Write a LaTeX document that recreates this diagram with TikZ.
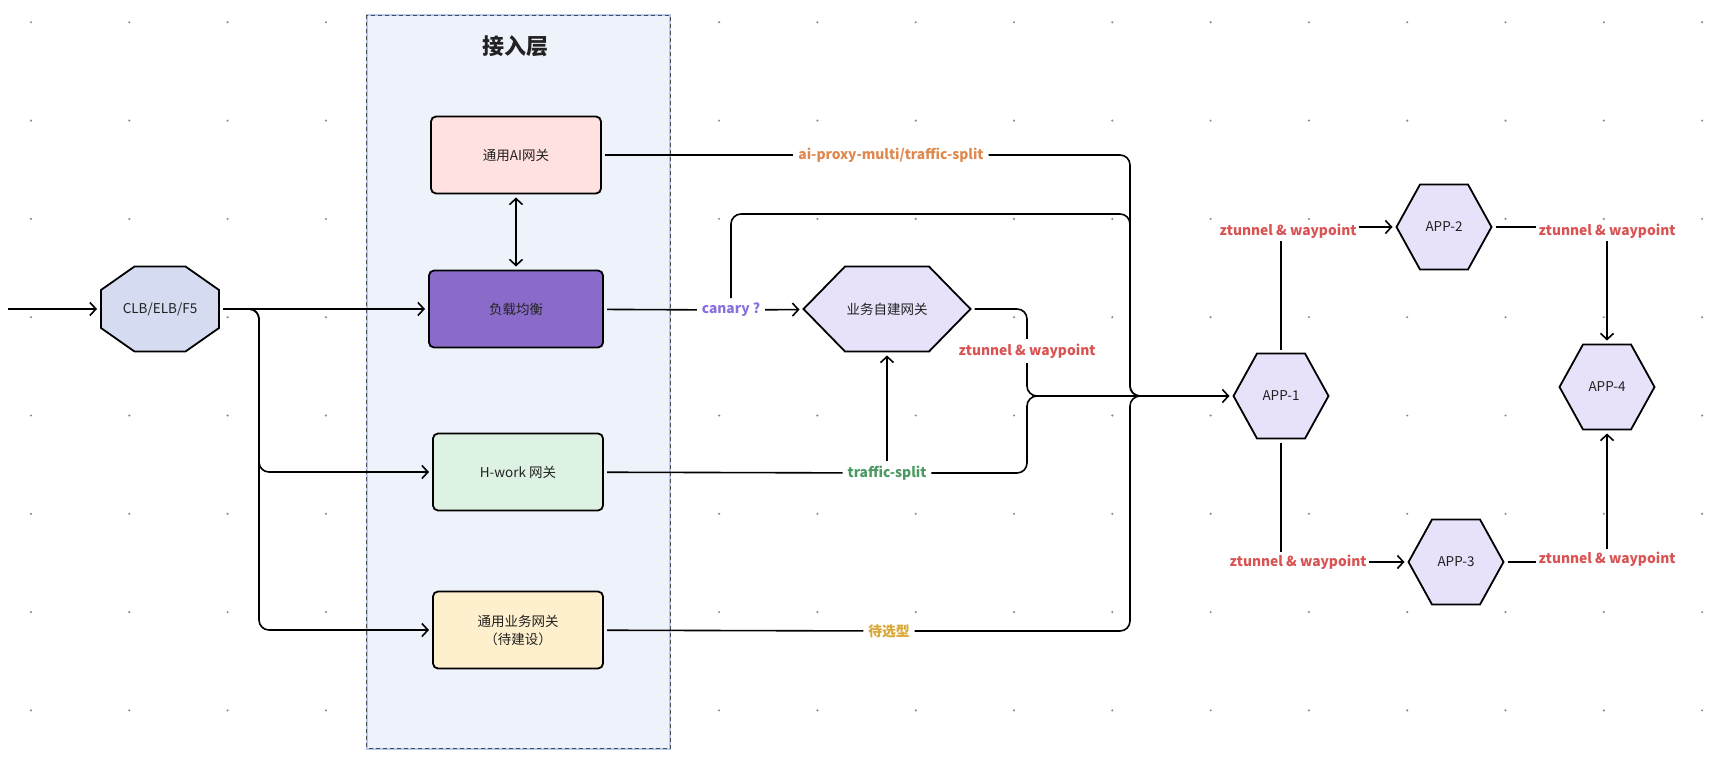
\documentclass[tikz,border=0pt]{standalone}
\usepackage{fontspec}
\setmainfont{Noto Sans CJK SC}
\usetikzlibrary{arrows.meta}

\definecolor{textdark}{HTML}{222222}
\definecolor{gridc}{HTML}{8E8E8E}
\definecolor{layerfill}{HTML}{EEF2FB}
\definecolor{layerline}{HTML}{B6C9F2}
\definecolor{aifill}{HTML}{FFE1DF}
\definecolor{lbfill}{HTML}{8A6BC9}
\definecolor{hwfill}{HTML}{DDF2E3}
\definecolor{genfill}{HTML}{FFF0CD}
\definecolor{clbfill}{HTML}{D5DBF1}
\definecolor{hexc}{HTML}{E7E1FA}
\definecolor{orangelab}{HTML}{E0894F}
\definecolor{greenlab}{HTML}{4C9A62}
\definecolor{goldlab}{HTML}{D9A834}
\definecolor{purplelab}{HTML}{8A6FDF}
\definecolor{redlab}{HTML}{D95353}

% polygon outline centred at (#1,#2): half width #3, half height #4, corner inset #5
\newcommand\HexOutline[5]{%
  \begin{scope}[shift={(#1,#2)}]
    \filldraw[polyshape] (-#3,0) -- (-#3+#5,-#4) -- (#3-#5,-#4) -- (#3,0)
      -- (#3-#5,#4) -- (-#3+#5,#4) -- cycle;
  \end{scope}}

\begin{document}
\begin{tikzpicture}[x=1pt,y=-1pt,
  every node/.style={font=\fontsize{13.5}{18}\selectfont, text=textdark},
  box/.style={draw=black, line width=1.8pt, rounded corners=5pt,
    minimum width=170pt, minimum height=77pt, outer sep=4pt, align=center},
  shapenode/.style={inner sep=0pt, outer sep=4pt},
  polyshape/.style={fill=hexc, draw=black, line width=1.8pt, line join=miter},
  link/.style={line width=1.6pt, draw=black},
  arr/.style={link, -{Straight Barb[length=6pt,width=13pt]}},
  dblarr/.style={link, {Straight Barb[length=6pt,width=13pt]}-{Straight Barb[length=6pt,width=13pt]}},
  lab/.style={font=\fontsize{13.8}{16}\selectfont\bfseries, fill=white,
    inner sep=2.5pt, outer sep=2.5pt},
  turn/.style={rounded corners=10pt}
]
\useasboundingbox (0,0) rectangle (1726,767);
\fill[white] (0,0) rectangle (1726,767);

% dotted canvas grid
\foreach \i in {0,...,17}
  \foreach \j in {0,...,7}
    \fill[gridc] (31+98.3*\i,22.3+98.3*\j) circle (1.2pt);

% access layer container
\fill[layerfill] (366.6,15.4) rectangle (670.4,748.5);
\draw[layerline, line width=2pt] (366.6,15.4) rectangle (670.4,748.5);
\draw[black!70, line width=0.9pt, dash pattern=on 4pt off 3pt] (366.6,15.4) rectangle (670.4,748.5);
\node[font=\fontsize{22}{26}\selectfont\bfseries] (title) at (515,46) {接入层};

% gateways inside the layer
\node[box, fill=aifill] (ai) at (516,155) {通用AI网关};
\node[box, fill=lbfill, minimum width=174pt] (lb) at (516,309) {负载均衡};
\node[box, fill=hwfill] (hw) at (518,472) {H-work 网关};
\node[box, fill=genfill] (gen) at (518,630) {通用业务网关\\（待建设）};

% load balancer octagon
\begin{scope}[shift={(160,309)}]
  \filldraw[polyshape, fill=clbfill] (-59,-19) -- (-25.5,-42.5) -- (25.5,-42.5) -- (59,-19)
    -- (59,19) -- (25.5,42.5) -- (-25.5,42.5) -- (-59,19) -- cycle;
\end{scope}
\node[shapenode, minimum width=118pt, minimum height=85pt] (clb) at (160,309) {CLB/ELB/F5};

% hexagonal services
\HexOutline{887}{309}{83.5}{42.5}{41.5}
\node[shapenode, minimum width=167pt, minimum height=85pt] (bh) at (887,309) {业务自建网关};
\HexOutline{1281}{396}{47.5}{42.5}{23.5}
\node[shapenode, minimum width=95pt, minimum height=85pt] (app1) at (1281,396) {APP-1};
\HexOutline{1444}{227}{47.5}{42.5}{23.5}
\node[shapenode, minimum width=95pt, minimum height=85pt] (app2) at (1444,227) {APP-2};
\HexOutline{1456}{562}{47.5}{42.5}{23.5}
\node[shapenode, minimum width=95pt, minimum height=85pt] (app3) at (1456,562) {APP-3};
\HexOutline{1607}{387}{47.5}{42.5}{23.5}
\node[shapenode, minimum width=95pt, minimum height=85pt] (app4) at (1607,387) {APP-4};

% edge labels
\node[lab, text=orangelab] (aiL) at (891,155) {ai-proxy-multi/traffic-split};
\node[lab, text=purplelab] (canary) at (731,310) {canary ?};
\node[lab, text=redlab] (zt) at (1027,351) {ztunnel \& waypoint};
\node[lab, text=greenlab] (ts) at (887,473) {traffic-split};
\node[lab, text=goldlab] (dx) at (889,631) {待选型};

% merge points in front of APP-1
\coordinate (src) at (8,309);
\coordinate (j1) at (1027,396);
\coordinate (j2) at (1130,396);
\coordinate (jout) at (1165,396);

% ingress
\draw[arr] (src) -- (clb);
\draw[arr] (clb) -- (lb);
\draw[arr, turn] (clb.east) -- (259,309) |- (hw.west);
\draw[arr, turn] (clb.east) -- (259,309) |- (gen.west);
\draw[dblarr] (ai) -- (lb);

% gateway routes
\draw[link] (ai) -- (aiL);
\draw[link, turn] (aiL) -| (j2) -- (jout);
\draw[link] (lb) -- (canary);
\draw[arr] (canary) -- (bh);
\draw[link, turn] (canary) |- (1130,214) -- (j2) -- (jout);
\draw[link, turn] (bh) -| (zt);
\draw[arr, turn] (zt) |- (app1);
\draw[link] (hw) -- (ts);
\draw[arr] (ts) -- (bh);
\draw[link, turn] (ts) -| (j1) -- (jout);
\draw[link] (gen) -- (dx);
\draw[link, turn] (dx) -| (j2) -- (jout);

% service mesh hops
\draw[arr] (app1) |- node[lab, text=redlab, xshift=7pt, yshift=-4pt] (z1) {ztunnel \& waypoint} (app2);
\draw[arr] (app1) |- node[lab, text=redlab, xshift=17pt] (z2) {ztunnel \& waypoint} (app3);
\draw[arr] (app2) -| node[lab, text=redlab, yshift=-4pt] (z3) {ztunnel \& waypoint} (app4);
\draw[arr] (app3) -| node[lab, text=redlab, yshift=3pt] (z4) {ztunnel \& waypoint} (app4);
\end{tikzpicture}
\end{document}
